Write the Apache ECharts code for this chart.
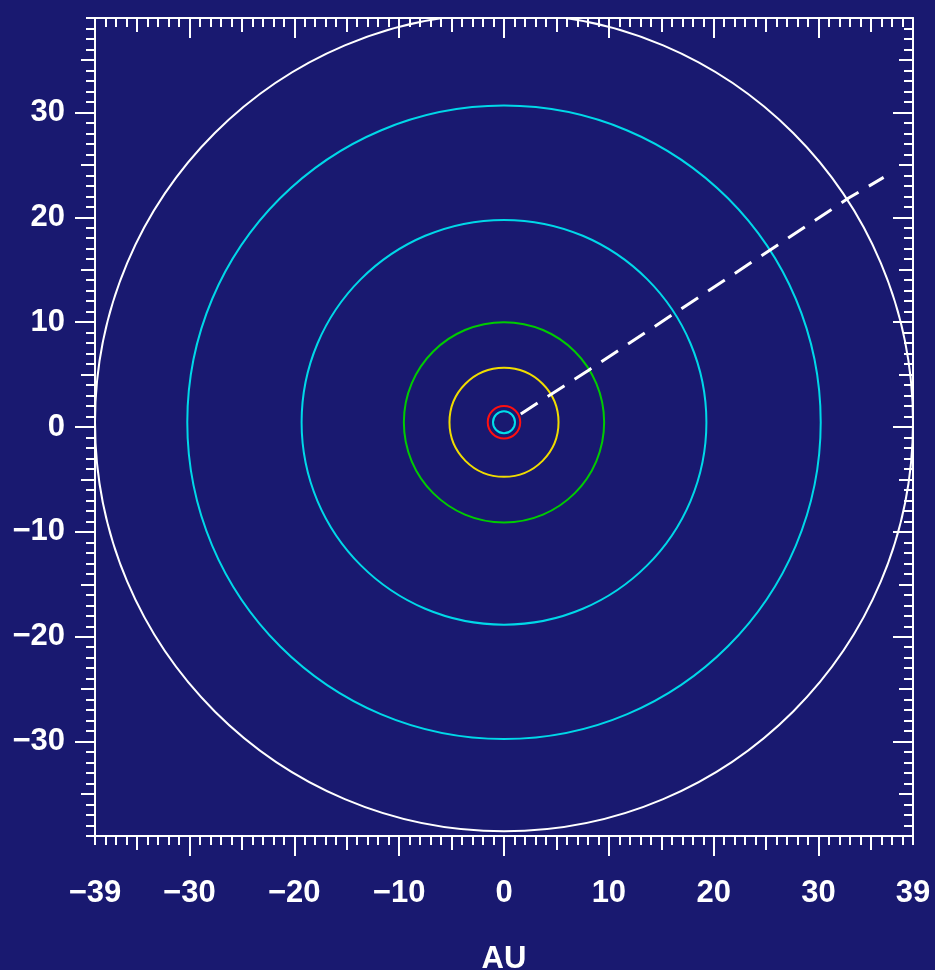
<!DOCTYPE html>
<html><head><meta charset="utf-8">
<script src="https://cdn.jsdelivr.net/npm/echarts@6/dist/echarts.min.js"></script>
<style>html,body{margin:0;padding:0;background:#191970;}#c{width:935px;height:970px;}</style>
</head><body><div id="c"></div>
<script>
// Tick labels
const xTickLabels = [-39, -30, -20, -10, 0, 10, 20, 30, 39];
const yTickLabels = [-30, -20, -10, 0, 10, 20, 30];
const midTicks = [-35, -25, -15, -5, 5, 15, 25, 35];
const majorTicks = [-30, -20, -10, 0, 10, 20, 30];

// Orbits (AU): center x, center y, radius
const orbitNames = ['Earth', 'Mars', 'Jupiter', 'Saturn', 'Uranus', 'Neptune', 'Outer'];
const orbitCenterX = [0, 0, 0, 0, 0, 0, 0];
const orbitCenterY = [0.45, 0.45, 0.45, 0.45, 0.45, 0.45, 0.45];
const orbitRadius = [1.05, 1.55, 5.2, 9.55, 19.3, 30.2, 39.0];
const orbitColors = ['#00e0ea', '#ff1010', '#f0dc00', '#00cc00', '#00d8e8', '#00d8e8', '#ffffff'];

// Trajectory (AU)
const trajX = [1.6, 8.07, 32.86, 36.2];
const trajY = [1.25, 5.42, 21.83, 23.8];

const BG = '#191970';
const FONT = { color: '#ffffff', fontFamily: 'Liberation Sans', fontWeight: 'bold', fontSize: 31 };
const fmt = v => (v < 0 ? '\u2212' + Math.abs(v) : String(v));

function axisSet(kind, position, inside, labels) {
  const base = {
    type: 'value', min: -39, max: 39, position: position,
    axisLine: { show: false, onZero: false },
    splitLine: { show: false },
    axisLabel: { show: false }
  };
  const tickStyle = { lineStyle: { color: '#ffffff', width: 2 } };
  const minor = Object.assign({}, base, {
    interval: 1,
    axisLine: { show: true, onZero: false, lineStyle: { color: '#ffffff', width: 2 } },
    axisTick: Object.assign({ show: true, inside: inside, length: 9 }, tickStyle)
  });
  if (labels) {
    minor.axisLabel = Object.assign({ show: true, customValues: labels, formatter: fmt,
      margin: kind === 'x' ? 38 : 30,
      padding: kind === 'x' ? [4, 0, 0, 0] : [9, 0, 0, 0] }, FONT);
  }
  const mid = Object.assign({}, base, {
    axisTick: Object.assign({ show: true, inside: inside, length: 14, customValues: midTicks }, tickStyle)
  });
  const major = Object.assign({}, base, {
    axisTick: Object.assign({ show: true, inside: inside, length: 20, customValues: majorTicks }, tickStyle)
  });
  return [minor, mid, major];
}

const xAxes = axisSet('x', 'bottom', false, xTickLabels).concat(axisSet('x', 'top', true, null));
xAxes[0].name = 'AU';
xAxes[0].nameLocation = 'middle';
xAxes[0].nameGap = 108;
xAxes[0].nameTextStyle = Object.assign({}, FONT);
const yAxes = axisSet('y', 'left', false, yTickLabels).concat(axisSet('y', 'right', true, null));

const orbitData = orbitNames.map((n, i) => ({ name: n, value: [orbitCenterX[i], orbitCenterY[i], orbitRadius[i]] }));

const chart = echarts.init(document.getElementById('c'), null, { renderer: 'canvas' });
chart.setOption({
  backgroundColor: BG,
  animation: false,
  grid: { left: 95, right: 22, top: 18, bottom: 134, containLabel: false, outerBoundsMode: 'none' },
  xAxis: xAxes,
  yAxis: yAxes,
  series: [
    {
      type: 'custom',
      clip: true,
      xAxisIndex: 0, yAxisIndex: 0,
      data: orbitData,
      renderItem: function (params, api) {
        const c = api.coord([api.value(0), api.value(1)]);
        const s = api.size([api.value(2), api.value(2)]);
        return {
          type: 'ellipse',
          shape: { cx: c[0], cy: c[1], rx: s[0], ry: s[1] },
          style: { fill: 'none', stroke: orbitColors[params.dataIndex], lineWidth: 2 }
        };
      }
    },
    {
      type: 'line',
      xAxisIndex: 0, yAxisIndex: 0,
      data: trajX.map((x, i) => [x, trajY[i]]),
      showSymbol: false,
      symbol: 'none',
      lineStyle: { color: '#ffffff', width: 3, type: [20, 12] }
    }
  ]
});
</script></body></html>
